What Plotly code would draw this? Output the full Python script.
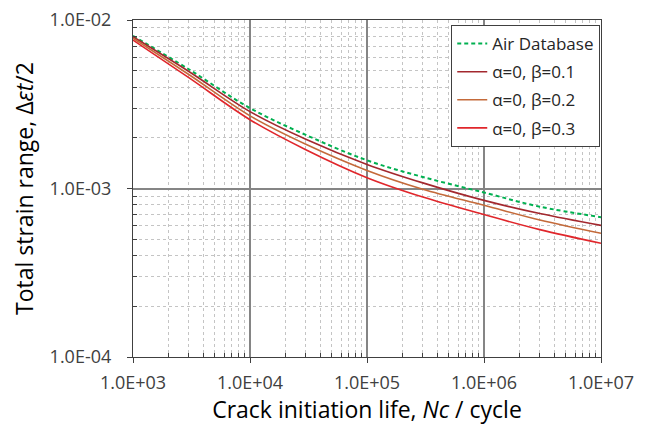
import plotly.graph_objects as go

# crack initiation life (cycles)
cycles = [1e3, 3e3, 1e4, 3e4, 1e5, 3e5, 1e6, 3e6, 1e7]

# total strain amplitude
air_db = [8.05e-3, 5.10e-3, 3.00e-3, 2.08e-3, 1.47e-3, 1.17e-3, 9.46e-4, 7.8e-4, 6.76e-4]
beta_01 = [7.95e-3, 4.95e-3, 2.86e-3, 1.96e-3, 1.39e-3, 1.08e-3, 8.5e-4, 7.1e-4, 6.04e-4]
beta_02 = [7.8e-3, 4.75e-3, 2.70e-3, 1.83e-3, 1.28e-3, 0.99e-3, 7.95e-4, 6.5e-4, 5.42e-4]
beta_03 = [7.6e-3, 4.55e-3, 2.56e-3, 1.70e-3, 1.16e-3, 0.89e-3, 7.0e-4, 5.7e-4, 4.73e-4]

x_ticks = [1e3, 1e4, 1e5, 1e6, 1e7]
x_labels = ["1.0E+03", "1.0E+04", "1.0E+05", "1.0E+06", "1.0E+07"]
y_ticks = [1e-4, 1e-3, 1e-2]
y_labels = ["1.0E-04", "1.0E-03", "1.0E-02"]

FONT = "Open Sans, Noto Sans, sans-serif"

fig = go.Figure()
fig.add_trace(go.Scatter(
    x=cycles, y=air_db, mode="lines", name="Air Database", legendgroup="a",
    line=dict(color="#00B050", width=2, dash="4px,3px", shape="spline"),
))
series = [
    ("α=0, β=0.1", beta_01, "#A3282E"),
    ("α=0, β=0.2", beta_02, "#C46A3A"),
    ("α=0, β=0.3", beta_03, "#E0262B"),
]
for name, vals, color in series:
    fig.add_trace(go.Scatter(
        x=cycles, y=vals, mode="lines", name=name, legendgroup=name,
        line=dict(color=color, width=1.6, shape="spline"),
    ))

# minor grid positions 2..9 within each decade
x_minor = [m * 10 ** e for e in range(3, 7) for m in range(2, 10)]
y_minor = [m * 10 ** e for e in range(-4, -2) for m in range(2, 10)]

axis_common = dict(
    type="log", automargin=False, ticklabeloverflow="allow",
    showgrid=True, gridcolor="#858585", gridwidth=1.5,
    showline=True, linecolor="#404040", linewidth=1.2, mirror=True,
    ticks="outside", ticklen=5, tickcolor="#404040",
    tickfont=dict(size=18, color="#404040"),
)
minor_common = dict(showgrid=True, gridcolor="#C4C4C4", griddash="3px,3px",
                    gridwidth=1, ticks="inside", ticklen=4, tickcolor="#404040")

fig.update_xaxes(
    range=[3, 7], tickvals=x_ticks, ticktext=x_labels, ticklabelstandoff=4,
    minor=dict(tickvals=x_minor, **minor_common),
    title=dict(text="Crack initiation life, <i>Nc</i> / cycle",
               font=dict(size=23, color="#000000"), standoff=5),
    **axis_common,
)
fig.update_yaxes(
    range=[-4, -2], tickvals=y_ticks, ticktext=y_labels, ticklabelstandoff=12,
    minor=dict(tickvals=y_minor, **minor_common),
    title=dict(text="Total strain range, Δ<i>εt</i>/2",
               font=dict(size=23, color="#000000"), standoff=10),
    **axis_common,
)
# page body adds an 8px offset, so the figure is sized to fit inside it
fig.update_layout(
    width=638, height=417,
    margin=dict(l=125, r=45, t=12, b=68),
    paper_bgcolor="white", plot_bgcolor="white",
    font=dict(family=FONT),
    legend=dict(
        x=0.68, y=0.985, xanchor="left", yanchor="top",
        bgcolor="white", bordercolor="#404040", borderwidth=1,
        font=dict(size=17, color="#262626"),
        traceorder="grouped", tracegroupgap=3,
    ),
)

fig.write_html("out.html")
